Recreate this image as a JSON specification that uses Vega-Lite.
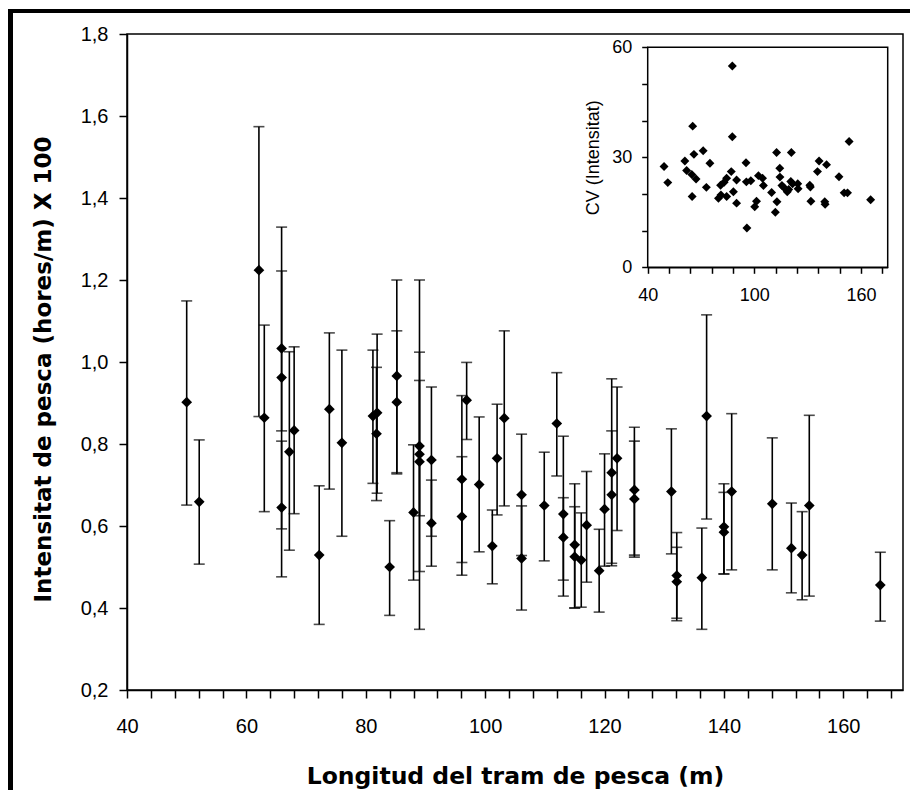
{
  "$schema": "https://vega.github.io/schema/vega-lite/v6.json",
  "width": 776,
  "height": 656,
  "autosize": "none",
  "padding": {"left": 127, "top": 34, "right": 7, "bottom": 100},
  "background": "white",
  "datasets": {
    "main": [
      {"x": 50.0, "m": 0.902, "lo": 0.651, "hi": 1.149},
      {"x": 52.1, "m": 0.659, "lo": 0.507, "hi": 0.810},
      {"x": 62.1, "m": 1.224, "lo": 0.867, "hi": 1.574},
      {"x": 63.0, "m": 0.864, "lo": 0.635, "hi": 1.090},
      {"x": 65.9, "m": 1.033, "lo": 0.832, "hi": 1.222},
      {"x": 65.9, "m": 0.962, "lo": 0.593, "hi": 1.329},
      {"x": 65.9, "m": 0.645, "lo": 0.476, "hi": 0.807},
      {"x": 67.2, "m": 0.781, "lo": 0.541, "hi": 1.025},
      {"x": 68.0, "m": 0.833, "lo": 0.630, "hi": 1.037},
      {"x": 72.2, "m": 0.529, "lo": 0.360, "hi": 0.698},
      {"x": 73.9, "m": 0.885, "lo": 0.690, "hi": 1.071},
      {"x": 76.0, "m": 0.803, "lo": 0.575, "hi": 1.029},
      {"x": 81.2, "m": 0.868, "lo": 0.704, "hi": 1.029},
      {"x": 81.9, "m": 0.876, "lo": 0.680, "hi": 1.068},
      {"x": 81.8, "m": 0.825, "lo": 0.662, "hi": 0.987},
      {"x": 84.0, "m": 0.500, "lo": 0.382, "hi": 0.613},
      {"x": 85.2, "m": 0.966, "lo": 0.730, "hi": 1.200},
      {"x": 85.2, "m": 0.902, "lo": 0.727, "hi": 1.076},
      {"x": 88.0, "m": 0.633, "lo": 0.468, "hi": 0.798},
      {"x": 89.0, "m": 0.775, "lo": 0.348, "hi": 1.200},
      {"x": 89.0, "m": 0.757, "lo": 0.489, "hi": 1.024},
      {"x": 89.0, "m": 0.795, "lo": 0.625, "hi": 0.955},
      {"x": 91.0, "m": 0.761, "lo": 0.575, "hi": 0.939},
      {"x": 91.0, "m": 0.607, "lo": 0.502, "hi": 0.712},
      {"x": 96.1, "m": 0.714, "lo": 0.511, "hi": 0.918},
      {"x": 96.1, "m": 0.623, "lo": 0.480, "hi": 0.769},
      {"x": 96.9, "m": 0.907, "lo": 0.811, "hi": 0.999},
      {"x": 99.0, "m": 0.701, "lo": 0.537, "hi": 0.866},
      {"x": 101.2, "m": 0.551, "lo": 0.459, "hi": 0.639},
      {"x": 102.0, "m": 0.765, "lo": 0.627, "hi": 0.897},
      {"x": 103.2, "m": 0.863, "lo": 0.649, "hi": 1.076},
      {"x": 106.1, "m": 0.676, "lo": 0.528, "hi": 0.824},
      {"x": 106.1, "m": 0.521, "lo": 0.395, "hi": 0.649},
      {"x": 109.9, "m": 0.650, "lo": 0.515, "hi": 0.780},
      {"x": 112.0, "m": 0.850, "lo": 0.722, "hi": 0.974},
      {"x": 113.1, "m": 0.629, "lo": 0.429, "hi": 0.819},
      {"x": 113.1, "m": 0.572, "lo": 0.468, "hi": 0.669},
      {"x": 115.0, "m": 0.554, "lo": 0.400, "hi": 0.703},
      {"x": 115.0, "m": 0.525, "lo": 0.400, "hi": 0.647},
      {"x": 116.1, "m": 0.517, "lo": 0.402, "hi": 0.632},
      {"x": 117.0, "m": 0.602, "lo": 0.463, "hi": 0.733},
      {"x": 119.1, "m": 0.491, "lo": 0.390, "hi": 0.592},
      {"x": 120.0, "m": 0.641, "lo": 0.502, "hi": 0.776},
      {"x": 121.2, "m": 0.730, "lo": 0.503, "hi": 0.959},
      {"x": 121.2, "m": 0.676, "lo": 0.509, "hi": 0.832},
      {"x": 122.1, "m": 0.765, "lo": 0.589, "hi": 0.939},
      {"x": 125.0, "m": 0.688, "lo": 0.529, "hi": 0.841},
      {"x": 125.0, "m": 0.666, "lo": 0.524, "hi": 0.807},
      {"x": 131.2, "m": 0.684, "lo": 0.532, "hi": 0.837},
      {"x": 132.1, "m": 0.479, "lo": 0.375, "hi": 0.584},
      {"x": 132.1, "m": 0.464, "lo": 0.369, "hi": 0.548},
      {"x": 136.3, "m": 0.474, "lo": 0.348, "hi": 0.595},
      {"x": 137.1, "m": 0.868, "lo": 0.617, "hi": 1.115},
      {"x": 140.0, "m": 0.598, "lo": 0.483, "hi": 0.703},
      {"x": 140.0, "m": 0.585, "lo": 0.483, "hi": 0.682},
      {"x": 141.3, "m": 0.684, "lo": 0.493, "hi": 0.874},
      {"x": 148.1, "m": 0.654, "lo": 0.493, "hi": 0.815},
      {"x": 151.3, "m": 0.546, "lo": 0.437, "hi": 0.656},
      {"x": 153.1, "m": 0.529, "lo": 0.420, "hi": 0.635},
      {"x": 154.3, "m": 0.650, "lo": 0.429, "hi": 0.870},
      {"x": 166.2, "m": 0.456, "lo": 0.368, "hi": 0.536}
    ],
    "inset": [
      {"xi": 49.2, "cv": 27.5}, {"xi": 51.3, "cv": 23.1}, {"xi": 60.9, "cv": 29.0},
      {"xi": 61.9, "cv": 26.4}, {"xi": 65.0, "cv": 19.3}, {"xi": 65.3, "cv": 38.5},
      {"xi": 64.8, "cv": 25.3}, {"xi": 66.0, "cv": 30.8}, {"xi": 67.2, "cv": 24.1},
      {"xi": 71.2, "cv": 31.8}, {"xi": 73.0, "cv": 21.8}, {"xi": 75.0, "cv": 28.4},
      {"xi": 79.8, "cv": 18.8}, {"xi": 81.0, "cv": 22.4}, {"xi": 81.2, "cv": 19.7},
      {"xi": 83.0, "cv": 23.2}, {"xi": 84.4, "cv": 24.3}, {"xi": 84.4, "cv": 19.3},
      {"xi": 87.0, "cv": 26.1}, {"xi": 87.6, "cv": 54.9}, {"xi": 87.6, "cv": 35.6},
      {"xi": 88.2, "cv": 20.6}, {"xi": 90.0, "cv": 23.8}, {"xi": 90.0, "cv": 17.5},
      {"xi": 95.3, "cv": 28.5}, {"xi": 95.5, "cv": 23.3}, {"xi": 95.8, "cv": 10.7},
      {"xi": 98.0, "cv": 23.6}, {"xi": 100.2, "cv": 16.5}, {"xi": 101.2, "cv": 18.0},
      {"xi": 102.3, "cv": 25.0}, {"xi": 105.1, "cv": 22.3}, {"xi": 104.6, "cv": 24.3},
      {"xi": 109.7, "cv": 20.4}, {"xi": 111.8, "cv": 15.0}, {"xi": 112.5, "cv": 31.3},
      {"xi": 112.7, "cv": 17.9}, {"xi": 114.3, "cv": 27.0}, {"xi": 114.4, "cv": 24.6},
      {"xi": 115.5, "cv": 22.3}, {"xi": 116.5, "cv": 21.8}, {"xi": 118.5, "cv": 20.6},
      {"xi": 119.3, "cv": 21.2}, {"xi": 120.8, "cv": 31.3}, {"xi": 120.5, "cv": 23.4},
      {"xi": 121.5, "cv": 22.8}, {"xi": 124.4, "cv": 22.8}, {"xi": 124.6, "cv": 21.4},
      {"xi": 131.2, "cv": 22.4}, {"xi": 131.5, "cv": 21.9}, {"xi": 131.8, "cv": 18.0},
      {"xi": 135.5, "cv": 26.1}, {"xi": 136.4, "cv": 29.0}, {"xi": 139.6, "cv": 17.9},
      {"xi": 139.8, "cv": 17.2}, {"xi": 140.6, "cv": 28.0}, {"xi": 147.6, "cv": 24.7},
      {"xi": 150.5, "cv": 20.3}, {"xi": 152.4, "cv": 20.3}, {"xi": 153.3, "cv": 34.3},
      {"xi": 165.4, "cv": 18.4}
    ]
  },
  "layer": [
    {
      "data": {"name": "main"},
      "layer": [
        {
          "mark": {"type": "errorbar", "thickness": 1.6, "color": "black", "ticks": {"size": 11, "thickness": 1.6, "color": "black"}},
          "encoding": {
            "x": {
              "field": "x", "type": "quantitative",
              "scale": {"domain": [40, 170], "nice": false, "zero": false},
              "axis": {
                "values": [40, 44, 48, 52, 56, 60, 64, 68, 72, 76, 80, 84, 88, 92, 96, 100, 104, 108, 112, 116, 120, 124, 128, 132, 136, 140, 144, 148, 152, 156, 160, 164, 168],
                "tickCount": 60,
                "labelExpr": "datum.value % 20 === 0 ? datum.label : ''",
                "tickSize": 8, "labelPadding": 18, "labelFontSize": 20, "labelFlush": false, "labelOverlap": false,
                "title": "Longitud del tram de pesca (m)",
                "titleFont": "DejaVu Sans", "titleFontSize": 23.5, "titleFontWeight": "bold",
                "titleY": 93, "titleBaseline": "alphabetic"
              }
            },
            "y": {
              "field": "lo", "type": "quantitative",
              "scale": {"domain": [0.2, 1.8], "nice": false, "zero": false},
              "axis": {
                "values": [0.2, 0.4, 0.6, 0.8, 1.0, 1.2, 1.4, 1.6, 1.8],
                "tickCount": 20,
                "labelExpr": "replace(format(datum.value, '.1f'), '.', ',')",
                "tickSize": 8, "labelPadding": 11, "labelFontSize": 20, "labelFlush": false, "labelOverlap": false,
                "title": "Intensitat de pesca  (hores/m) X 100",
                "titleFont": "DejaVu Sans", "titleFontSize": 23, "titleFontWeight": "bold",
                "titleX": -77, "titleY": 335, "titleBaseline": "alphabetic"
              }
            },
            "y2": {"field": "hi"}
          }
        },
        {
          "mark": {"type": "point", "shape": "diamond", "filled": true, "size": 115, "color": "black", "opacity": 1},
          "encoding": {
            "x": {"field": "x", "type": "quantitative"},
            "y": {"field": "m", "type": "quantitative"}
          }
        },
        {
          "mark": {"type": "rule", "strokeWidth": 4, "color": "black"},
          "encoding": {
            "x": {"datum": 20.1},
            "x2": {"datum": 175},
            "y": {"datum": 1.856}
          }
        },
        {
          "mark": {"type": "rule", "strokeWidth": 4, "color": "black"},
          "encoding": {
            "x": {"datum": 20.48},
            "y": {"datum": 1.861},
            "y2": {"datum": -0.2}
          }
        }
      ]
    },
    {
      "layer": [
        {
          "data": {"values": [{}]},
          "mark": {"type": "rect", "fill": "white", "stroke": "black", "strokeWidth": 1.5},
          "encoding": {
            "x": {"datum": 40},
            "x2": {"datum": 175},
            "y": {"datum": 0},
            "y2": {"datum": 60}
          }
        },
        {
          "data": {"name": "inset"},
          "mark": {"type": "point", "shape": "diamond", "filled": true, "size": 80, "color": "black", "opacity": 1},
          "encoding": {
            "x": {
              "field": "xi", "type": "quantitative",
              "scale": {"domain": [40, 175], "range": [520.7, 760.7], "nice": false, "zero": false},
              "axis": {
                "orient": "bottom", "offset": -422.7,
                "values": [40, 52, 64, 76, 88, 100, 112, 124, 136, 148, 160, 172],
                "tickCount": 30,
                "labelExpr": "(datum.value == 40 || datum.value == 100 || datum.value == 160) ? datum.label : ''",
                "tickSize": 6, "labelPadding": 13, "labelFontSize": 18, "labelFlush": false, "labelOverlap": false,
                "title": null
              }
            },
            "y": {
              "field": "cv", "type": "quantitative",
              "scale": {"domain": [0, 60], "range": [233.3, 13.3], "nice": false},
              "axis": {
                "orient": "left", "offset": -520.7,
                "values": [0, 10, 20, 30, 40, 50, 60],
                "tickCount": 20,
                "labelExpr": "datum.value % 30 === 0 ? datum.label : ''",
                "tickSize": 6, "labelPadding": 10, "labelFontSize": 18, "labelFlush": false, "labelOverlap": false,
                "title": "CV (Intensitat)", "titleFontSize": 18, "titleFontWeight": "normal",
                "titleX": -49, "titleBaseline": "alphabetic"
              }
            }
          }
        }
      ]
    }
  ],
  "resolve": {
    "scale": {"x": "independent", "y": "independent"},
    "axis": {"x": "independent", "y": "independent"}
  },
  "config": {
    "font": "Liberation Sans",
    "view": {"stroke": "black", "strokeWidth": 1.5},
    "axis": {
      "grid": false,
      "domainColor": "black", "domainWidth": 1.5,
      "tickColor": "black", "tickWidth": 1.5,
      "labelColor": "black", "titleColor": "black",
      "labelFont": "Liberation Sans", "titleFont": "Liberation Sans"
    }
  }
}
